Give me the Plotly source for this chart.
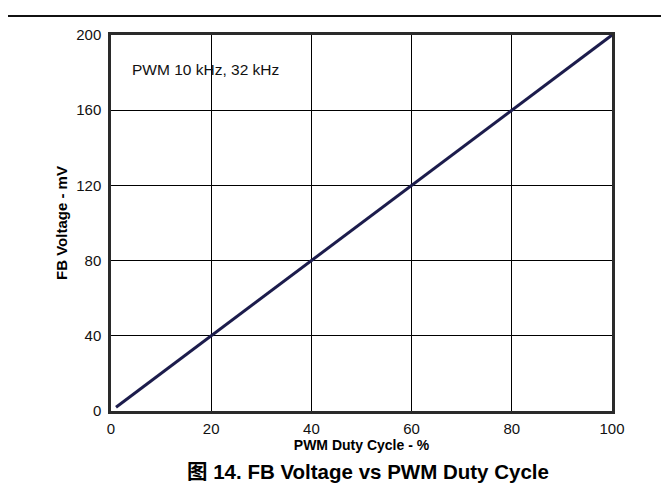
import plotly.graph_objects as go

duty_cycle = [1, 20, 40, 60, 80, 100]
fb_voltage = [2, 40, 80, 120, 160, 200]
x_ticks = [0, 20, 40, 60, 80, 100]
y_ticks = [0, 40, 80, 120, 160, 200]

FONT = "Liberation Sans, Arial, Noto Sans CJK SC, sans-serif"

fig = go.Figure()
fig.add_trace(go.Scatter(
    x=duty_cycle, y=fb_voltage, mode="lines",
    line=dict(color="#1c1c4c", width=3),
    showlegend=False, hoverinfo="skip"))

axis_common = dict(
    showline=True, mirror=True, linecolor="#2a2a2a", linewidth=2.5,
    showgrid=True, gridcolor="#000000", gridwidth=1,
    zeroline=False, ticks="", tickfont=dict(family=FONT, size=15, color="#111"),
)

fig.update_xaxes(range=[0, 100], tickvals=x_ticks, ticklabelstandoff=2,
                 title=dict(text="<b>PWM Duty Cycle - %</b>",
                            font=dict(family=FONT, size=14, color="#000"), standoff=2),
                 **axis_common)
fig.update_yaxes(range=[0, 200], tickvals=y_ticks, ticklabelstandoff=4,
                 title=dict(text="<b>FB Voltage - mV</b>",
                            font=dict(family=FONT, size=15, color="#000"), standoff=5),
                 **axis_common)

fig.add_annotation(x=0.0385, y=0.908, xref="paper", yref="paper",
                   text="PWM 10 kHz, 32 kHz", showarrow=False,
                   xanchor="left", yanchor="middle",
                   font=dict(family=FONT, size=15.5, color="#111"))

fig.add_annotation(x=0.512, y=-0.162, xref="paper", yref="paper",
                   text="<b>图 14. FB Voltage vs PWM Duty Cycle</b>", showarrow=False,
                   xanchor="center", yanchor="middle",
                   font=dict(family=FONT, size=20.5, color="#000"))

fig.add_shape(type="line", xref="paper", yref="paper",
              x0=-0.206, x1=1.132, y0=1.0508, y1=1.0508,
              line=dict(color="#111", width=2))

fig.update_layout(
    width=669, height=486,
    margin=dict(l=103, r=65, t=27, b=83),
    paper_bgcolor="white", plot_bgcolor="white",
    font=dict(family=FONT),
)

fig.write_html("out.html")
